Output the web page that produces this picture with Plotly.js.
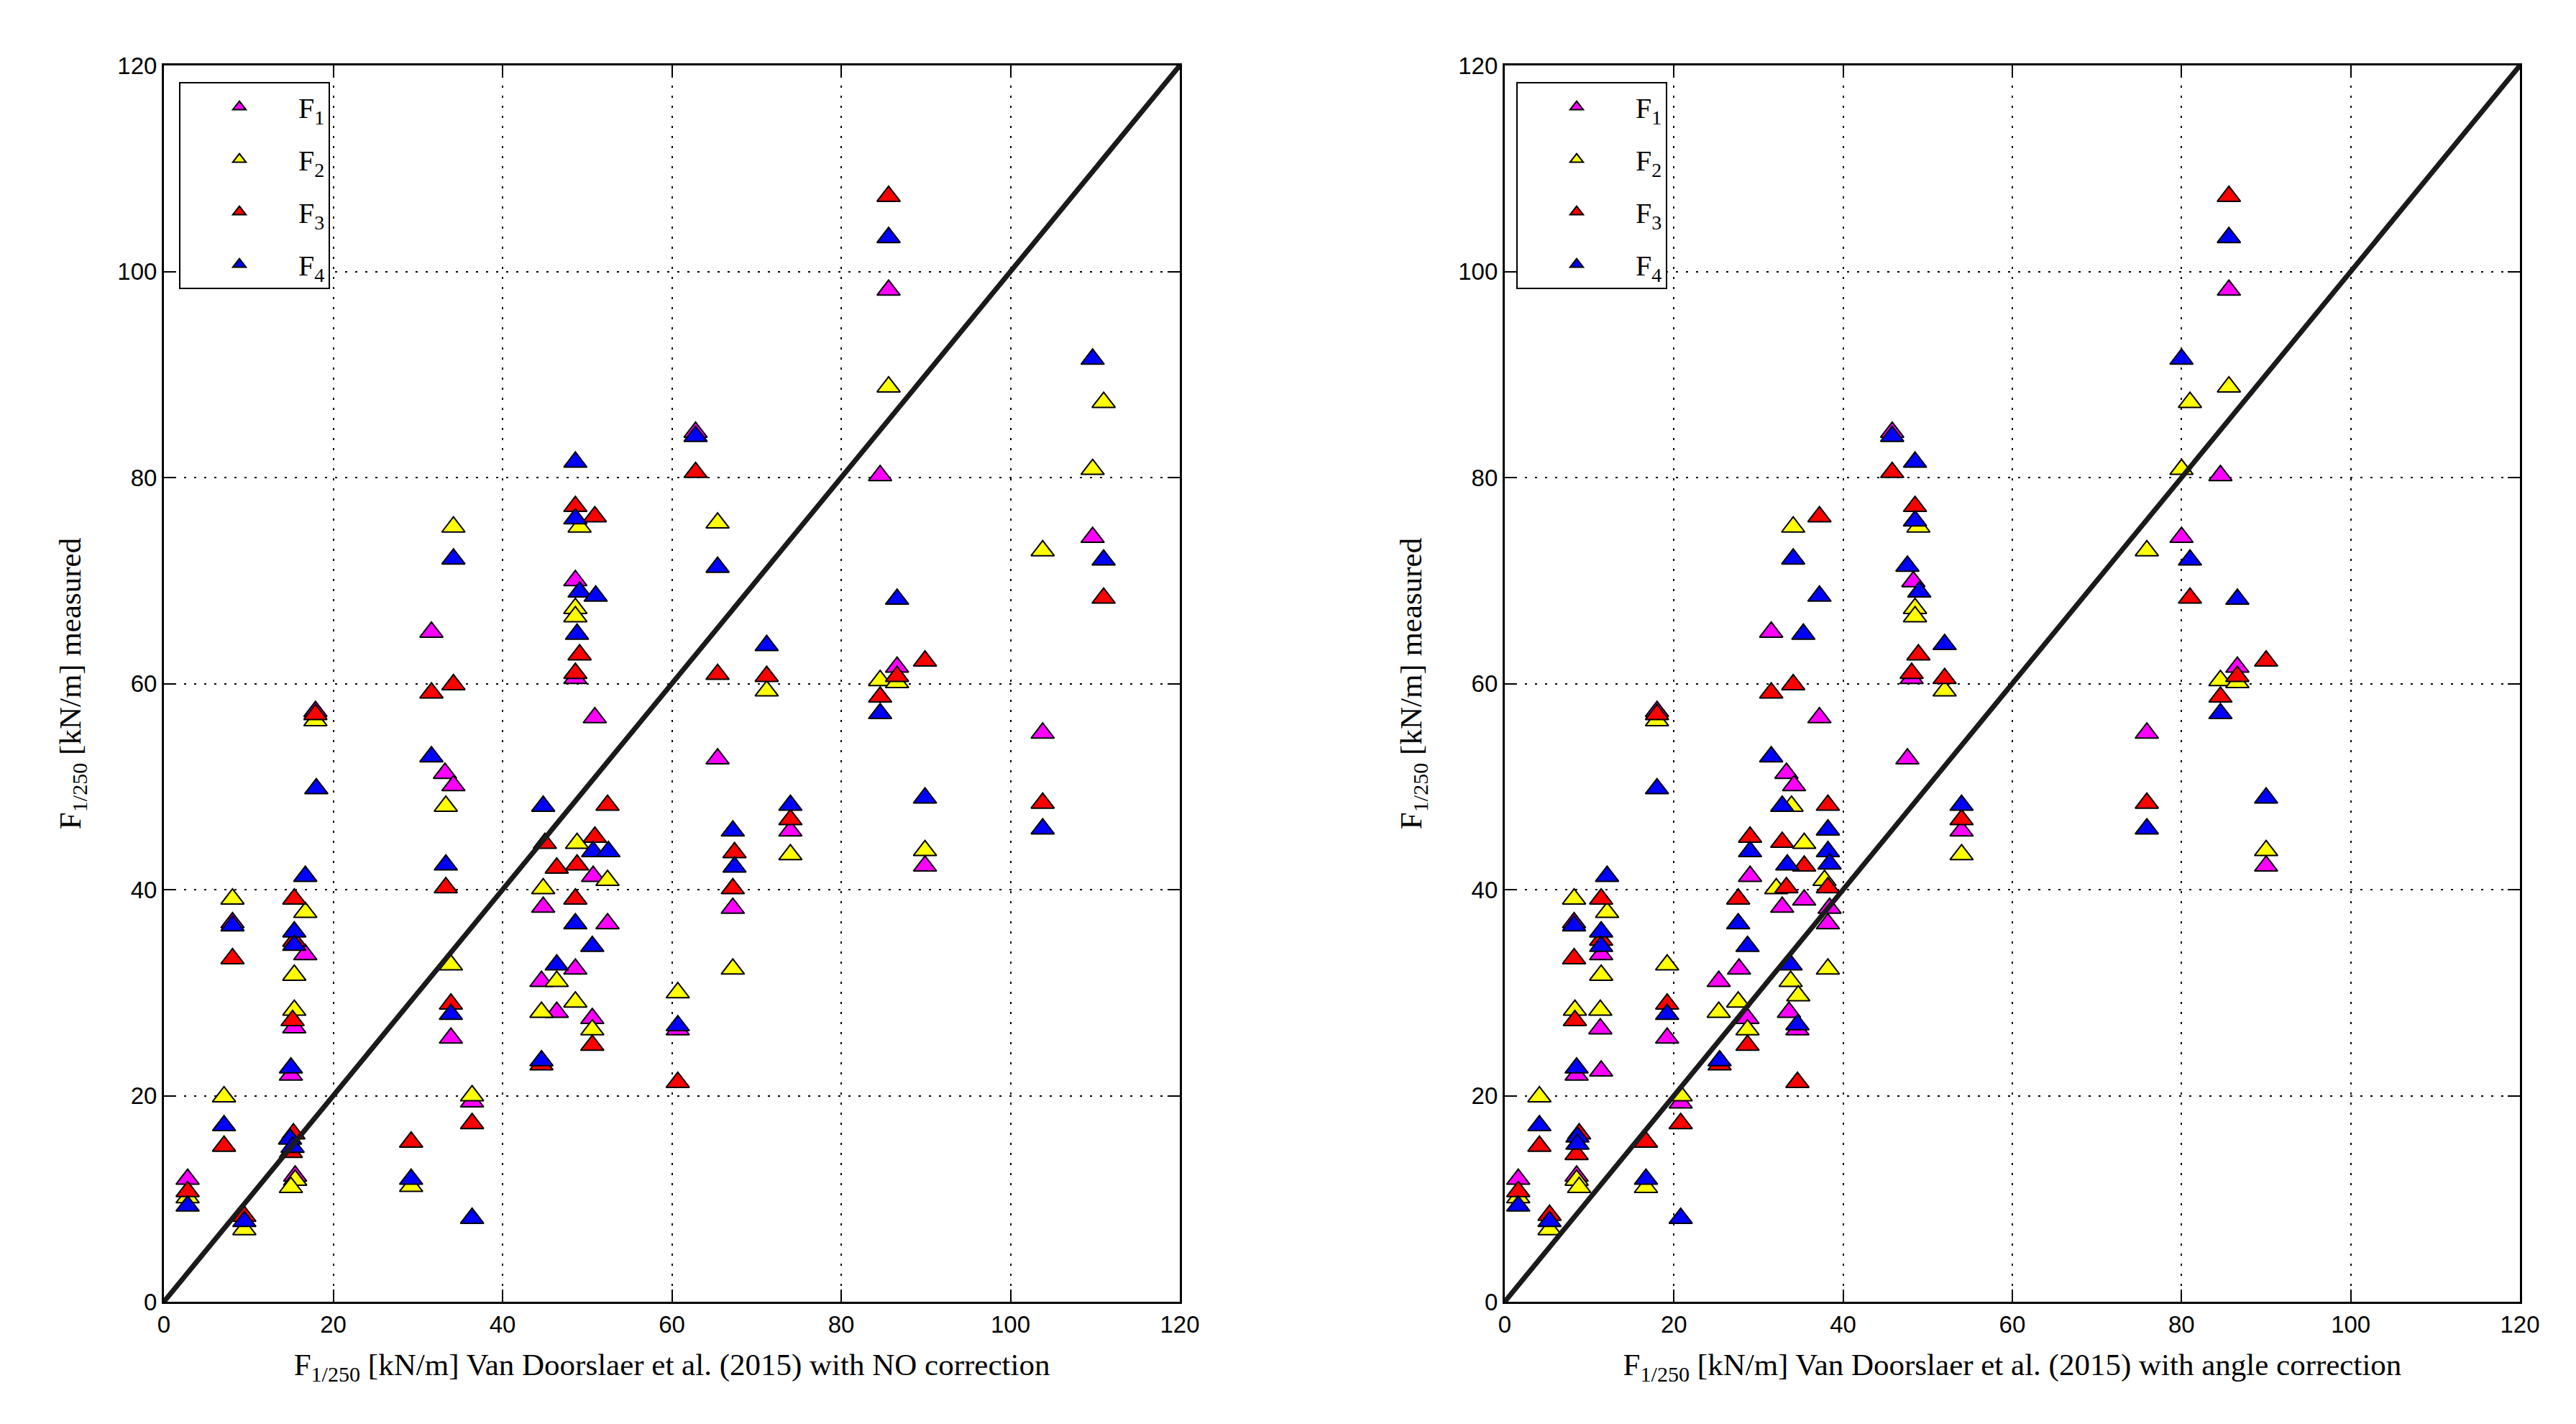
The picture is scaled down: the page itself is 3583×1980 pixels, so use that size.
<!DOCTYPE html>
<html><head><meta charset="utf-8">
<script src="https://cdn.plot.ly/plotly-3.0.1.min.js"></script>
<style>html,body{margin:0;padding:0;background:#fff;}#chart{width:3583px;height:1980px;}</style>
</head><body><div id="chart"></div>
<script>
// ---------- data ----------
const seriesNames = ['F<sub>1</sub>', 'F<sub>2</sub>', 'F<sub>3</sub>', 'F<sub>4</sub>'];
const seriesColors = ['#ff00ff', '#ffff00', '#ff0000', '#0000ff'];
const axisTicks = [0, 20, 40, 60, 80, 100, 120];
const perfectLine = [0, 120];
const yTitle = 'F<sub>1/250</sub> [kN/m] measured';
const xTitleLeft = 'F<sub>1/250</sub> [kN/m] Van Doorslaer et al. (2015) with NO correction';
const xTitleRight = 'F<sub>1/250</sub> [kN/m] Van Doorslaer et al. (2015) with angle correction';

// Left panel: NO correction
const noCorrF1x = [48.6,31.6,48.6,17.9,50.9,33.2,34.2,50.7,44.8,8.1,52.4,16.7,48.6,44.6,46.4,33.9,15.4,50.6,15.0,36.4,15.5,2.8,85.6,62.8,84.6,109.7,86.6,103.8,65.4,74.0,89.9,67.2,60.7];
const noCorrF1y = [70.0,65.0,60.5,57.3,56.7,51.3,50.1,41.3,38.3,36.8,36.7,33.7,32.3,31.1,28.1,25.6,26.6,27.5,22.0,19.4,12.2,11.9,98.2,84.4,80.2,74.2,61.6,55.2,52.7,45.7,42.3,38.2,26.4];
const noCorrF2x = [49.1,34.2,48.6,48.6,17.9,33.3,48.8,52.4,44.8,8.1,16.7,15.4,46.4,33.9,48.6,44.6,15.4,50.6,7.1,36.4,15.5,15.0,29.2,2.8,9.5,111.0,85.6,109.7,65.4,103.8,84.6,71.2,86.6,74.0,89.9,67.2,60.7];
const noCorrF2y = [75.2,75.2,67.3,66.5,56.4,48.1,44.5,40.9,40.1,39.1,37.8,31.7,31.1,32.7,29.1,28.1,28.3,26.4,19.9,20.0,11.8,11.1,11.2,10.1,7.0,87.3,88.8,80.8,75.6,72.9,60.3,59.3,60.1,43.4,43.8,32.3,30.0];
const noCorrF3x = [48.6,50.9,49.1,48.6,31.6,34.2,17.9,52.4,45.0,50.9,46.4,48.8,33.3,15.4,48.6,15.4,8.1,33.9,15.2,50.6,44.6,36.4,7.1,29.2,15.3,15.0,2.8,9.5,85.6,62.8,111.0,89.9,65.4,71.2,86.6,84.6,103.8,74.0,67.4,67.2,60.7];
const noCorrF3y = [77.2,76.2,62.8,61.0,59.1,59.9,57.0,48.2,44.5,45.1,42.1,42.4,40.2,39.1,39.1,35.0,33.3,28.9,27.3,24.9,23.0,17.3,15.1,15.5,16.3,14.5,10.7,8.3,107.3,80.5,68.3,62.2,60.9,60.7,60.7,58.7,48.4,46.8,43.6,40.1,21.3];
const noCorrF4x = [48.6,48.6,34.2,49.1,51.0,48.8,31.6,18.0,44.8,50.7,52.5,16.7,33.3,8.1,48.6,15.4,15.4,50.6,46.4,33.9,44.6,15.0,7.1,14.9,15.2,29.2,2.8,9.5,36.4,85.6,109.7,62.8,111.0,65.4,86.6,71.2,84.6,89.9,103.8,74.0,67.2,67.4,60.7];
const noCorrF4y = [81.5,76.0,72.1,68.9,68.5,64.8,52.9,49.8,48.1,43.7,43.7,41.3,42.4,36.5,36.7,35.9,34.6,34.5,32.7,27.9,23.4,22.7,17.1,15.8,15.0,11.9,9.3,7.8,8.1,103.3,91.5,84.0,72.0,71.3,68.2,63.7,57.1,48.9,45.9,48.2,45.7,42.2,26.8];

// Right panel: angle correction
const angCorrF1x = [45.8,48.3,31.5,48.1,18.0,37.2,33.3,34.2,47.6,29.0,32.8,35.4,38.4,38.2,8.2,11.4,27.7,25.3,33.6,34.6,19.2,11.3,28.7,8.5,11.4,20.8,8.5,1.6,54.0,85.6,84.6,80.0,86.6,75.9,90.0];
const angCorrF1y = [84.4,69.9,65.0,60.5,57.3,56.7,51.3,50.1,52.7,41.3,38.3,39.0,38.2,36.7,36.8,33.7,32.3,31.1,28.1,26.4,25.6,26.5,27.5,22.0,22.4,19.3,12.2,11.9,45.7,98.2,80.2,74.2,61.6,55.2,42.3];
const angCorrF2x = [48.9,34.1,48.5,48.5,52.0,18.0,33.9,35.4,37.8,32.1,8.2,12.1,11.4,19.2,38.2,33.8,34.7,27.6,25.3,8.3,11.3,28.7,4.1,20.8,8.5,8.8,16.7,1.6,5.3,54.0,85.6,81.0,80.0,75.9,84.6,86.6,90.0];
const angCorrF2y = [75.2,75.2,67.3,66.5,59.3,56.4,48.1,44.5,40.9,40.1,39.1,37.8,31.7,32.7,32.3,31.1,29.7,29.1,28.1,28.3,28.3,26.4,19.9,20.0,11.8,11.1,11.1,10.1,7.0,43.4,88.8,87.3,80.8,72.9,60.3,60.1,43.8];
const angCorrF3x = [45.8,48.5,37.2,48.9,48.1,52.0,31.5,34.1,18.0,38.2,29.0,32.8,35.4,38.2,33.3,11.4,27.6,11.4,8.2,19.2,8.3,28.7,25.4,34.6,20.8,4.1,16.7,8.8,8.5,1.6,5.3,54.0,85.6,81.0,90.0,86.6,84.6,75.9];
const angCorrF3y = [80.5,77.2,76.2,62.8,61.0,60.5,59.1,59.9,57.0,48.2,45.1,44.6,42.3,40.2,40.2,39.1,39.1,35.1,33.3,28.9,27.3,24.9,23.0,21.3,17.3,15.1,15.5,16.3,14.3,10.7,8.4,46.8,107.3,68.3,62.2,60.7,58.7,48.4];
const angCorrF4x = [45.8,48.5,48.5,34.1,47.6,49.0,37.2,35.3,52.0,31.5,18.0,32.8,38.2,29.0,38.2,38.4,33.4,12.1,8.2,27.6,11.4,11.4,28.7,33.8,19.2,34.6,25.4,8.5,4.1,8.6,8.6,16.7,1.6,5.3,20.8,54.0,85.6,80.0,81.0,86.6,84.6,90.0,75.9];
const angCorrF4y = [84.0,81.5,75.8,72.1,71.4,68.9,68.5,64.8,63.8,52.9,49.8,48.1,45.8,43.7,43.7,42.5,42.4,41.3,36.5,36.7,35.9,34.5,34.5,32.7,27.9,26.9,23.4,22.7,17.1,16.0,15.3,11.9,9.3,7.8,8.1,48.2,103.3,91.5,72.0,68.2,57.1,48.9,45.9];

// ---------- traces ----------
const leftX = [noCorrF1x, noCorrF2x, noCorrF3x, noCorrF4x];
const leftY = [noCorrF1y, noCorrF2y, noCorrF3y, noCorrF4y];
const rightX = [angCorrF1x, angCorrF2x, angCorrF3x, angCorrF4x];
const rightY = [angCorrF1y, angCorrF2y, angCorrF3y, angCorrF4y];

const markerStyle = (c) => ({symbol: 'triangle-up', size: 28, color: c, line: {color: '#000', width: 2}});
const traces = [];
for (let i = 0; i < 4; i++) {
  traces.push({type: 'scatter', mode: 'markers', x: leftX[i], y: leftY[i], name: seriesNames[i],
    xaxis: 'x', yaxis: 'y', marker: markerStyle(seriesColors[i]), legend: 'legend', legendgroup: 'L' + i});
}
traces.push({type: 'scatter', mode: 'lines', x: perfectLine, y: perfectLine, xaxis: 'x', yaxis: 'y',
  line: {color: '#1a1a1a', width: 7}, showlegend: false, hoverinfo: 'skip'});
for (let i = 0; i < 4; i++) {
  traces.push({type: 'scatter', mode: 'markers', x: rightX[i], y: rightY[i], name: seriesNames[i],
    xaxis: 'x2', yaxis: 'y2', marker: markerStyle(seriesColors[i]), legend: 'legend2', legendgroup: 'R' + i});
}
traces.push({type: 'scatter', mode: 'lines', x: perfectLine, y: perfectLine, xaxis: 'x2', yaxis: 'y2',
  line: {color: '#1a1a1a', width: 7}, showlegend: false, hoverinfo: 'skip'});

// ---------- layout ----------
const tickFont = {family: 'Liberation Sans, Arial, sans-serif', size: 33, color: '#000'};
const titleFont = {family: 'Liberation Serif, Times New Roman, serif', size: 43, color: '#000'};
const axisBase = {
  range: [0, 120], tickvals: axisTicks, ticktext: axisTicks.map(String),
  showgrid: true, gridcolor: '#000', gridwidth: 2, griddash: '3px,11px',
  showline: true, linecolor: '#000', linewidth: 3, mirror: 'ticks',
  ticks: 'inside', ticklen: 17, tickwidth: 2, tickcolor: '#000',
  zeroline: false, tickfont: tickFont, fixedrange: true
};
const legendBase = {
  xanchor: 'left', yanchor: 'top', y: 0.9866,
  bgcolor: '#fff', bordercolor: '#000', borderwidth: 2,
  font: {family: 'Liberation Serif, Times New Roman, serif', size: 40, color: '#000'},
  tracegroupgap: 18, itemwidth: 154, itemclick: false, itemdoubleclick: false
};
const layout = {
  width: 3583, height: 1980,
  margin: {l: 228, r: 78, t: 91, b: 170},
  paper_bgcolor: '#fff', plot_bgcolor: '#fff',
  showlegend: true,
  xaxis: Object.assign({}, axisBase, {domain: [0, 0.4312], anchor: 'y',
    title: {text: xTitleLeft, font: titleFont, standoff: 24}}),
  yaxis: Object.assign({}, axisBase, {domain: [0, 1], anchor: 'x',
    title: {text: yTitle, font: titleFont, standoff: 38}}),
  xaxis2: Object.assign({}, axisBase, {domain: [0.5691, 1], anchor: 'y2',
    title: {text: xTitleRight, font: titleFont, standoff: 24}}),
  yaxis2: Object.assign({}, axisBase, {domain: [0, 1], anchor: 'x2',
    title: {text: yTitle, font: titleFont, standoff: 38}}),
  legend: Object.assign({}, legendBase, {x: 0.0064}),
  legend2: Object.assign({}, legendBase, {x: 0.5740})
};

Plotly.newPlot('chart', traces, layout, {displayModeBar: false, staticPlot: true});
</script>
</body></html>
